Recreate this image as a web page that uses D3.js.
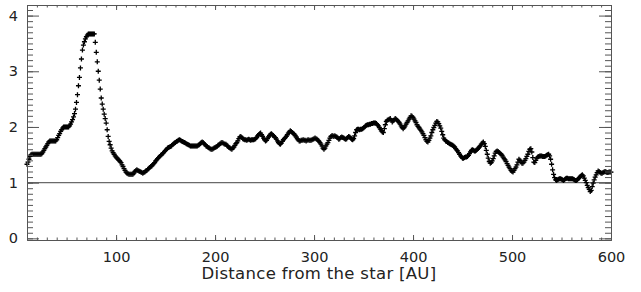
<!DOCTYPE html>
<html>
<head>
<meta charset="utf-8">
<script src="https://cdn.jsdelivr.net/npm/d3@7"></script>
<style>
  body { margin: 0; background: #fff; }
  svg { display: block; }
</style>
</head>
<body>
<div id="chart"></div>
<script>
// sampling grid of the profile, one point per AU
const distanceAU = d3.range(10, 601, 1);

// ratio, one row per 10 AU (10-19, 20-29, ...)
const ratio = [
  1.33,1.37,1.42,1.47,1.50,1.51,1.51,1.51,1.51,1.51,
  1.51,1.51,1.51,1.51,1.51,1.52,1.55,1.58,1.61,1.64,
  1.67,1.70,1.73,1.75,1.75,1.75,1.75,1.75,1.75,1.75,
  1.77,1.81,1.85,1.88,1.92,1.95,1.98,2.00,2.00,2.00,
  2.00,2.00,2.00,2.02,2.05,2.09,2.13,2.18,2.24,2.32,
  2.44,2.58,2.74,2.89,3.06,3.22,3.38,3.47,3.53,3.58,
  3.62,3.65,3.67,3.67,3.67,3.67,3.67,3.67,3.67,3.52,
  3.34,3.17,3.00,2.84,2.68,2.52,2.41,2.32,2.23,2.15,
  2.07,1.95,1.83,1.74,1.68,1.62,1.57,1.54,1.51,1.48,
  1.46,1.44,1.42,1.40,1.38,1.36,1.32,1.29,1.25,1.22,
  1.19,1.17,1.16,1.15,1.15,1.15,1.15,1.15,1.17,1.20,
  1.22,1.23,1.22,1.21,1.20,1.19,1.18,1.17,1.18,1.19,
  1.21,1.22,1.24,1.25,1.27,1.29,1.30,1.32,1.34,1.36,
  1.39,1.41,1.43,1.45,1.47,1.49,1.50,1.52,1.54,1.56,
  1.58,1.60,1.62,1.63,1.64,1.65,1.66,1.68,1.70,1.71,
  1.72,1.74,1.75,1.76,1.77,1.76,1.75,1.74,1.73,1.72,
  1.71,1.70,1.69,1.68,1.67,1.66,1.66,1.66,1.66,1.66,
  1.66,1.66,1.66,1.67,1.68,1.70,1.72,1.73,1.72,1.70,
  1.68,1.66,1.65,1.63,1.62,1.61,1.60,1.60,1.61,1.62,
  1.63,1.64,1.65,1.67,1.68,1.70,1.71,1.72,1.71,1.70,
  1.69,1.69,1.67,1.65,1.63,1.62,1.61,1.60,1.62,1.64,
  1.67,1.70,1.72,1.75,1.79,1.82,1.83,1.81,1.79,1.78,
  1.77,1.77,1.76,1.77,1.78,1.77,1.76,1.77,1.77,1.77,
  1.78,1.79,1.81,1.84,1.86,1.88,1.89,1.86,1.83,1.80,
  1.77,1.75,1.76,1.79,1.82,1.85,1.87,1.88,1.86,1.84,
  1.82,1.81,1.78,1.75,1.72,1.70,1.69,1.71,1.74,1.77,
  1.79,1.81,1.83,1.86,1.89,1.91,1.93,1.92,1.90,1.88,
  1.87,1.85,1.82,1.79,1.77,1.75,1.75,1.76,1.76,1.77,
  1.76,1.76,1.75,1.76,1.77,1.76,1.76,1.76,1.77,1.78,
  1.79,1.80,1.79,1.78,1.76,1.74,1.72,1.69,1.66,1.62,
  1.60,1.62,1.66,1.69,1.72,1.76,1.80,1.83,1.84,1.84,
  1.83,1.84,1.83,1.82,1.80,1.78,1.79,1.81,1.82,1.81,
  1.80,1.79,1.78,1.79,1.81,1.83,1.82,1.80,1.78,1.77,
  1.79,1.84,1.90,1.95,1.96,1.96,1.95,1.96,1.96,1.97,
  1.98,2.00,2.02,2.03,2.04,2.04,2.05,2.05,2.06,2.06,
  2.07,2.07,2.07,2.06,2.04,2.02,1.99,1.96,1.93,1.91,
  1.90,1.97,2.04,2.10,2.12,2.13,2.14,2.15,2.12,2.09,
  2.11,2.13,2.15,2.14,2.12,2.10,2.08,2.05,2.02,1.99,
  1.97,1.99,2.02,2.05,2.08,2.11,2.14,2.17,2.20,2.19,
  2.17,2.14,2.11,2.08,2.04,2.01,1.99,1.96,1.94,1.91,
  1.88,1.85,1.81,1.77,1.74,1.73,1.76,1.80,1.84,1.90,
  1.95,1.99,2.03,2.07,2.10,2.09,2.06,2.02,1.98,1.92,
  1.86,1.80,1.77,1.75,1.74,1.72,1.71,1.70,1.69,1.68,
  1.67,1.66,1.64,1.61,1.59,1.57,1.54,1.51,1.48,1.46,
  1.44,1.44,1.45,1.46,1.46,1.47,1.49,1.52,1.55,1.58,
  1.59,1.58,1.57,1.57,1.58,1.60,1.62,1.64,1.66,1.69,
  1.71,1.73,1.70,1.65,1.58,1.51,1.44,1.38,1.35,1.36,
  1.39,1.43,1.48,1.53,1.56,1.57,1.56,1.54,1.52,1.51,
  1.49,1.46,1.43,1.41,1.38,1.34,1.31,1.28,1.25,1.22,
  1.20,1.19,1.22,1.25,1.28,1.32,1.37,1.42,1.40,1.37,
  1.35,1.35,1.37,1.40,1.43,1.47,1.51,1.56,1.60,1.61,
  1.55,1.45,1.37,1.36,1.40,1.44,1.46,1.47,1.48,1.48,
  1.48,1.47,1.47,1.47,1.48,1.49,1.50,1.51,1.48,1.42,
  1.33,1.23,1.15,1.09,1.05,1.04,1.05,1.06,1.07,1.07,
  1.06,1.05,1.04,1.05,1.07,1.08,1.08,1.07,1.07,1.07,
  1.07,1.07,1.06,1.05,1.04,1.04,1.05,1.07,1.09,1.11,
  1.13,1.14,1.12,1.08,1.04,1.00,0.95,0.91,0.88,0.84,
  0.86,0.93,0.99,1.05,1.10,1.14,1.18,1.21,1.20,1.18,
  1.17,1.17,1.18,1.19,1.20,1.19,1.18,1.18,1.19,1.19,
  1.19
];

const xMajorTicks = [100, 200, 300, 400, 500, 600];
const xMinorTicks = d3.range(10, 601, 10);
const yMajorTicks = [0, 1, 2, 3, 4];
const yMinorTicks = d3.range(0, 4.15, 0.1);
const referenceLevel = 1;
const xLabel = 'Distance from the star [AU]';

const width = 641, height = 292;
const plot = { left: 27, right: 611, top: 5, bottom: 240 };
const axisColor = '#555';
const font = 'DejaVu Sans, sans-serif';

const svg = d3.select('#chart')
  .append('svg')
  .attr('width', width)
  .attr('height', height);

const x = d3.scaleLinear().domain([10, 600]).range([plot.left, plot.right]);
const y = d3.scaleLinear().domain([-0.03, 4.19]).range([plot.bottom, plot.top]);

// reference line at ratio 1
svg.append('line')
  .attr('x1', plot.left).attr('x2', plot.right)
  .attr('y1', y(referenceLevel)).attr('y2', y(referenceLevel))
  .attr('stroke', '#6a6a6a')
  .attr('stroke-width', 1.4);

// data as plus markers
const points = distanceAU.map((d, i) => ({ d: d, r: ratio[i] }));
svg.append('g')
  .selectAll('path')
  .data(points)
  .join('path')
  .attr('transform', p => `translate(${x(p.d)},${y(p.r)})`)
  .attr('d', 'M-2.5,0H2.5M0,-2.5V2.5')
  .attr('stroke', '#000')
  .attr('stroke-width', 1.3)
  .attr('fill', 'none');

// helper to style an axis group
function styleAxis(g, showText) {
  g.select('.domain').attr('stroke', axisColor).attr('stroke-width', 1);
  g.selectAll('.tick line').attr('stroke', axisColor);
  if (showText) {
    g.selectAll('.tick text')
      .attr('fill', '#222')
      .style('font-family', font)
      .style('font-size', '14.5px');
  } else {
    g.selectAll('.tick text').remove();
  }
}

// bottom axis: minor then major
svg.append('g')
  .attr('transform', `translate(0,${plot.bottom})`)
  .call(d3.axisBottom(x).tickValues(xMinorTicks).tickSize(-2.5).tickSizeOuter(0).tickFormat(''))
  .call(g => styleAxis(g, false));
svg.append('g')
  .attr('transform', `translate(0,${plot.bottom})`)
  .call(d3.axisBottom(x).tickValues(xMajorTicks).tickSize(-5).tickSizeOuter(0).tickPadding(12))
  .call(g => styleAxis(g, true));

// top axis mirrors the ticks
svg.append('g')
  .attr('transform', `translate(0,${plot.top})`)
  .call(d3.axisTop(x).tickValues(xMinorTicks).tickSize(-2.5).tickSizeOuter(0).tickFormat(''))
  .call(g => styleAxis(g, false));
svg.append('g')
  .attr('transform', `translate(0,${plot.top})`)
  .call(d3.axisTop(x).tickValues(xMajorTicks).tickSize(-5).tickSizeOuter(0).tickFormat(''))
  .call(g => styleAxis(g, false));

// left axis
svg.append('g')
  .attr('transform', `translate(${plot.left},0)`)
  .call(d3.axisLeft(y).tickValues(yMinorTicks).tickSize(-6).tickSizeOuter(0).tickFormat(''))
  .call(g => styleAxis(g, false));
svg.append('g')
  .attr('transform', `translate(${plot.left},0)`)
  .call(d3.axisLeft(y).tickValues(yMajorTicks).tickSize(-12).tickSizeOuter(0).tickPadding(9).tickFormat(d3.format('d')))
  .call(g => styleAxis(g, true));

// right axis
svg.append('g')
  .attr('transform', `translate(${plot.right},0)`)
  .call(d3.axisRight(y).tickValues(yMinorTicks).tickSize(-6).tickSizeOuter(0).tickFormat(''))
  .call(g => styleAxis(g, false));
svg.append('g')
  .attr('transform', `translate(${plot.right},0)`)
  .call(d3.axisRight(y).tickValues(yMajorTicks).tickSize(-12).tickSizeOuter(0).tickFormat(''))
  .call(g => styleAxis(g, false));

// x axis title
svg.append('text')
  .attr('x', (plot.left + plot.right) / 2)
  .attr('y', 279)
  .attr('text-anchor', 'middle')
  .attr('fill', '#222')
  .style('font-family', font)
  .style('font-size', '16.5px')
  .style('letter-spacing', '0.3px')
  .text(xLabel);
</script>
</body>
</html>
